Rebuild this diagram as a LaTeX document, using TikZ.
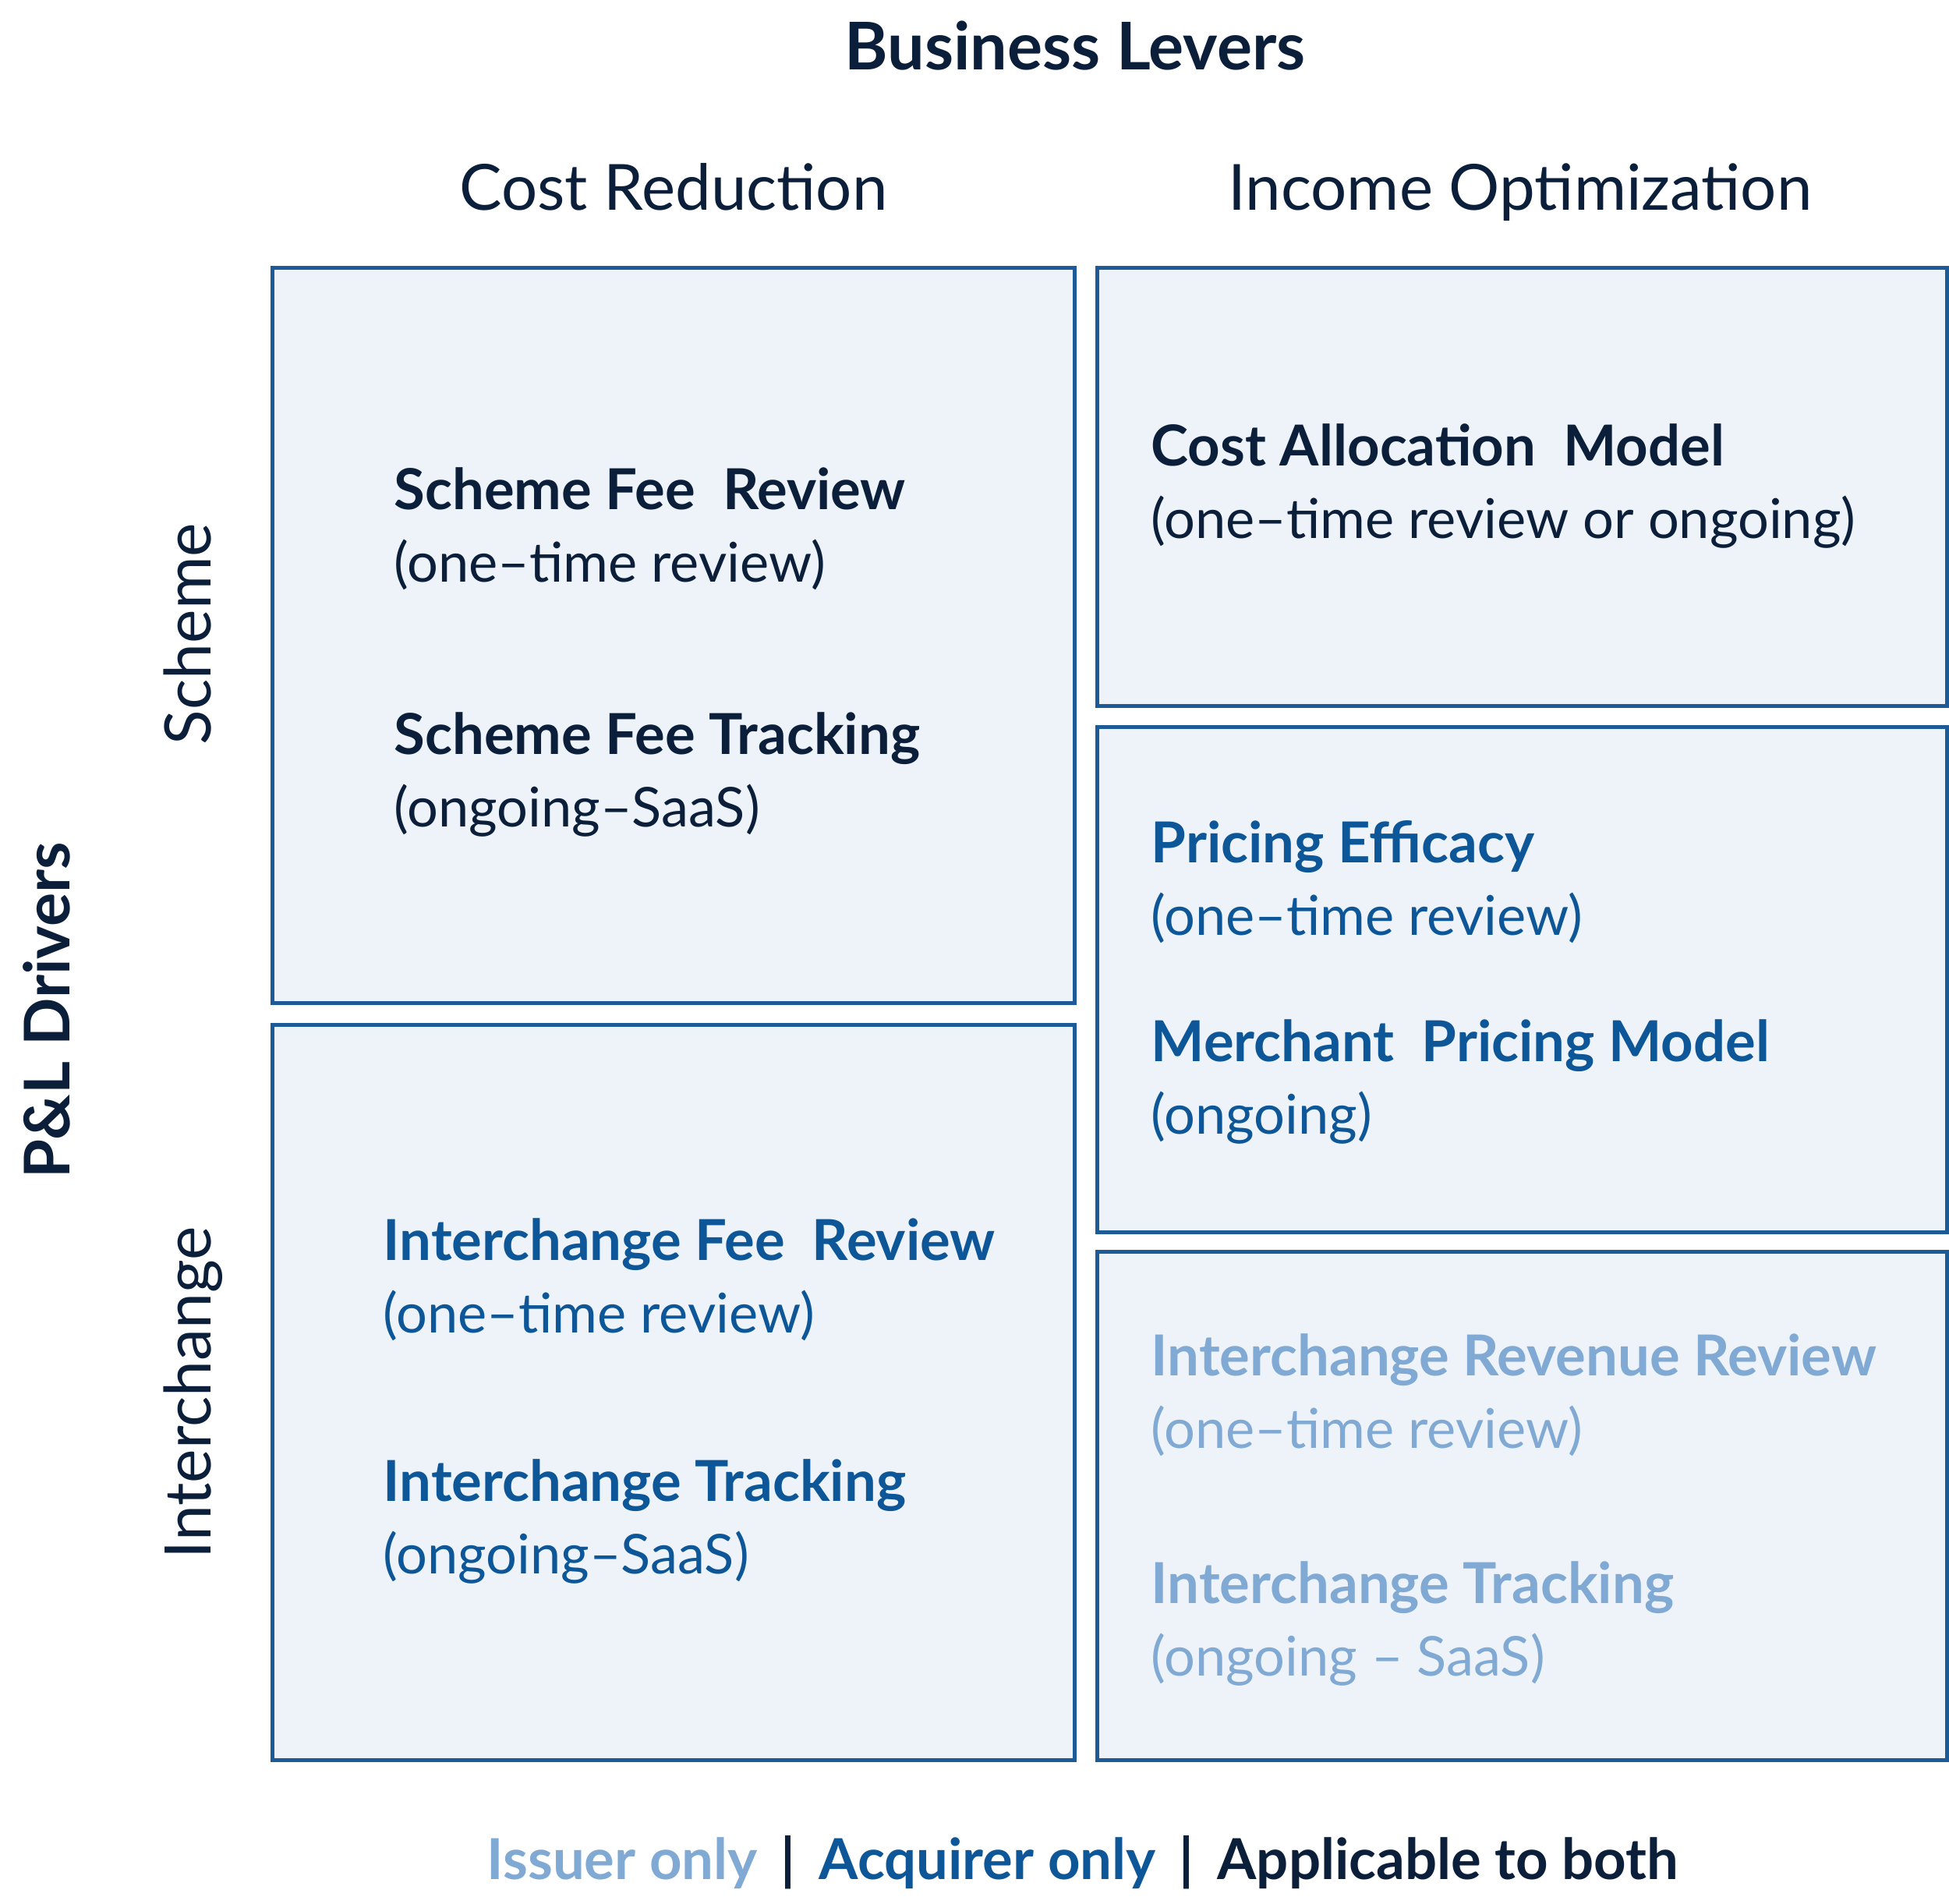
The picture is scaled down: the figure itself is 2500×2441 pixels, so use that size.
\documentclass[tikz,border=0pt]{standalone}
\usepackage{fontspec}
\setmainfont{Lato}
\usepackage{xcolor}
\usepackage{tikz}
\usetikzlibrary{positioning,calc}
\definecolor{navy}{HTML}{0B1F3A}
\definecolor{acqblue}{HTML}{0D5697}
\definecolor{issblue}{HTML}{80A9D3}
\definecolor{boxblue}{HTML}{1C5A98}
\definecolor{cellfill}{HTML}{EEF3F9}
\tikzset{
  cell/.style    = {rectangle, draw=boxblue, line width=0.05cm, fill=cellfill,
                    inner sep=0pt},
  colhead/.style = {font=\fontsize{23.2}{28}\selectfont, text=navy, anchor=base},
  rowhead/.style = {font=\fontsize{23.4}{28}\selectfont, text=navy, anchor=base,
                    rotate=90},
  axis/.style    = {font=\fontsize{24}{28}\selectfont\bfseries, text=navy,
                    anchor=base},
  lead/.style    = {font=\fontsize{20.6}{24}\selectfont\bfseries, anchor=base west,
                    inner sep=0pt},
  note/.style    = {font=\fontsize{20}{24}\selectfont, anchor=base west,
                    inner sep=0pt},
  sub/.style     = {yshift=-0.93cm},
}

\begin{document}
\begin{tikzpicture}[x=0.01cm, y=-0.01cm]
\useasboundingbox (0,0) rectangle (2500,2441);

%% ── Axis titles ───────────────────────────────────────────────────────────
\node[axis] (levers) at (1379,89) {Business Levers};
\node[axis, rotate=90, font=\fontsize{23}{27}\selectfont\bfseries] (drivers)
  at (90,1296) {P\&L Drivers};

\node[colhead] (cost) at (864,269) {Cost Reduction};
\node[colhead] (income) at (1950,269) {Income Optimization};

\node[rowhead] (scheme) at (270,813) {Scheme};
\node[rowhead] (inter) at (270,1786) {Interchange};

%% ── Cells ─────────────────────────────────────────────────────────────────
\node[cell, minimum width=10.28cm, minimum height=9.42cm] (tl) at (864,815) {};
\node[cell, minimum width=10.28cm, minimum height=9.42cm] (bl) at (864,1786) {};
\node[cell, minimum width=10.89cm, minimum height=5.61cm] (tr) at (1952.5,624.5) {};
\node[cell, minimum width=10.89cm, minimum height=6.47cm] (mr) at (1952.5,1256.5) {};
\node[cell, minimum width=10.89cm, minimum height=6.51cm] (br) at (1952.5,1931.5) {};

%% ── Cost reduction / scheme ───────────────────────────────────────────────
\node[lead, text=navy] (sfr) at (505,653) {Scheme Fee\ \ Review};
\node[note, text=navy, sub] (sfrN) at (sfr.base west) {(one--time review)};
\node[lead, text=navy] (sft) at (505,967) {Scheme Fee Tracking};
\node[note, text=navy, sub] (sftN) at (sft.base west) {(ongoing--SaaS)};

%% ── Cost reduction / interchange ──────────────────────────────────────────
\node[lead, text=acqblue] (ifr) at (491,1616) {Interchange Fee\ \ Review};
\node[note, text=acqblue, sub] (ifrN) at (ifr.base west) {(one--time review)};
\node[lead, text=acqblue] (ift) at (491,1925) {Interchange Tracking};
\node[note, text=acqblue, sub] (iftN) at (ift.base west) {(ongoing--SaaS)};

%% ── Income optimization ───────────────────────────────────────────────────
\node[lead, text=navy] (cam) at (1476,597) {Cost Allocation\ \ Model};
\node[note, text=navy, sub] (camN) at (cam.base west) {(one--time review or ongoing)};

\node[lead, text=acqblue] (pe) at (1476,1106) {Pricing Efficacy};
\node[note, text=acqblue, sub] (peN) at (pe.base west) {(one--time review)};
\node[lead, text=acqblue] (mpm) at (1476,1361) {Merchant\ \ Pricing Model};
\node[note, text=acqblue, sub] (mpmN) at (mpm.base west) {(ongoing)};

\node[lead, text=issblue] (irr) at (1476,1764) {Interchange Revenue Review};
\node[note, text=issblue, sub] (irrN) at (irr.base west) {(one--time review)};
\node[lead, text=issblue] (irt) at (1476,2056) {Interchange Tracking};
\node[note, text=issblue, sub] (irtN) at (irt.base west) {(ongoing -- SaaS)};

%% ── Legend ────────────────────────────────────────────────────────────────
\node[anchor=base, font=\fontsize{20.6}{25}\selectfont\bfseries] (legend) at (1389,2410)
  {\textcolor{issblue}{Issuer only}\hspace*{0.3cm}\textcolor{navy}{|}\hspace*{0.3cm}%
   \textcolor{acqblue}{Acquirer only}\hspace*{0.3cm}\textcolor{navy}{|}\hspace*{0.3cm}%
   \textcolor{navy}{Applicable to both}};

\end{tikzpicture}
\end{document}
